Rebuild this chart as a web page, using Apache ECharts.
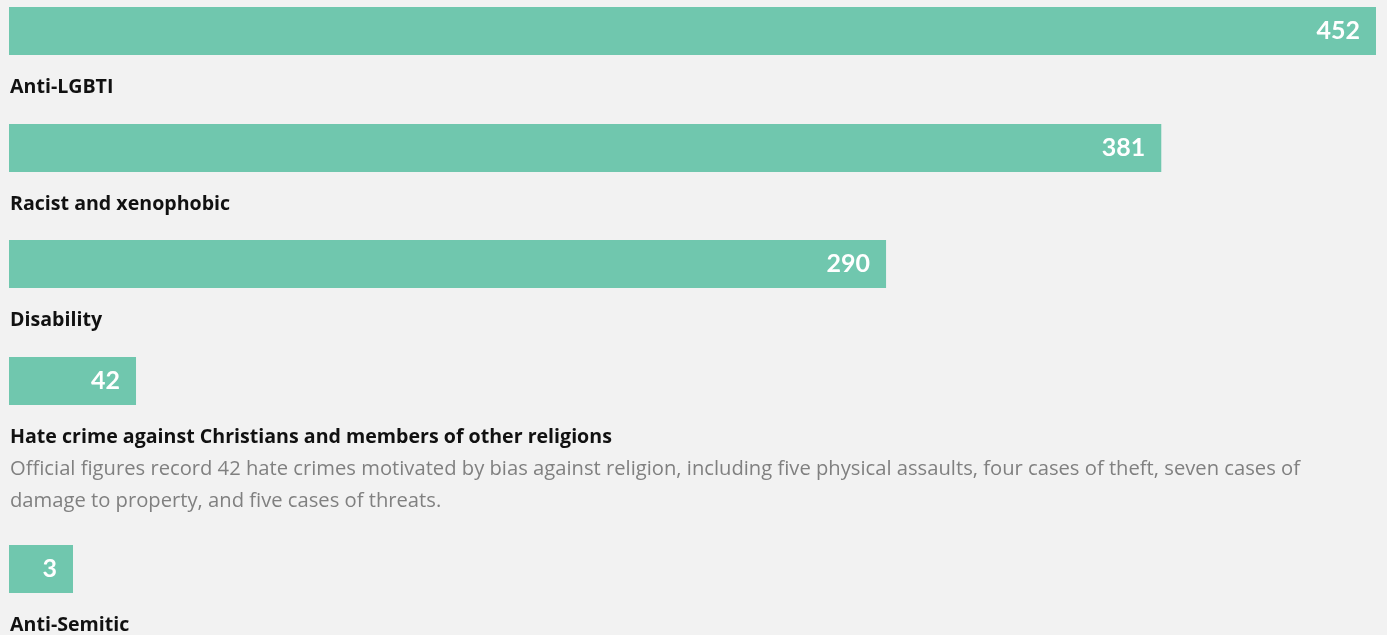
<!DOCTYPE html>
<html>
<head>
<meta charset="utf-8">
<script src="https://cdn.jsdelivr.net/npm/echarts@6/dist/echarts.min.js"></script>
<style>
	html, body { margin: 0; padding: 0; background: #f2f2f2; }
	#chart { width: 1387px; height: 635px; }
</style>
</head>
<body>
<div id="chart"></div>
<script>
	// data
	var categories = ['Anti-LGBTI', 'Racist and xenophobic', 'Disability', 'Hate crime against Christians and members of other religions', 'Anti-Semitic']
	var values = [452, 381, 290, 42, 3]
	var notes = ['', '', '', 'Official figures record 42 hate crimes motivated by bias against religion, including five physical assaults, four cases of theft, seven cases of\ndamage to property, and five cases of threats.', '']

	// layout
	var barTops = [7, 124, 240, 357, 545]
	var barH = 48
	var left = 9
	var plotW = 1367
	var font = '"Open Sans"'
	var barColor = '#70c7ae'

	var chart = echarts.init(document.getElementById('chart'))
	var maxVal = Math.max.apply(null, values)

	var grids = [], xAxes = [], yAxes = [], series = [], titles = []
	categories.forEach(function (name, i) {
		grids.push({ left: left, width: plotW, top: barTops[i], height: barH })
		xAxes.push({ type: 'value', gridIndex: i, min: 0, max: maxVal, show: false })
		yAxes.push({ type: 'category', gridIndex: i, data: [name], show: false })
		series.push({
			type: 'bar',
			xAxisIndex: i,
			yAxisIndex: i,
			data: [values[i]],
			barWidth: '100%',
			barMinHeight: 64, // tiny values still get a visible box
			itemStyle: { color: barColor },
			label: {
				show: true,
				position: 'insideRight',
				distance: 16,
				color: '#fff',
				fontFamily: 'Lato',
				fontWeight: 'bold',
				fontSize: 25
			},
			silent: true
		})
		titles.push({
			left: left + 1,
			top: barTops[i] + barH + 20,
			padding: 0,
			itemGap: 4,
			text: name,
			textStyle: { fontFamily: font, fontWeight: 'bold', fontSize: 19.6, color: '#111', lineHeight: 24 },
			subtext: notes[i],
			subtextStyle: { fontFamily: font, fontSize: 20.2, color: '#808080', lineHeight: 32 }
		})
	})

	chart.setOption({
		backgroundColor: '#f2f2f2',
		animation: false,
		title: titles,
		grid: grids,
		xAxis: xAxes,
		yAxis: yAxes,
		series: series
	})
</script>
</body>
</html>
